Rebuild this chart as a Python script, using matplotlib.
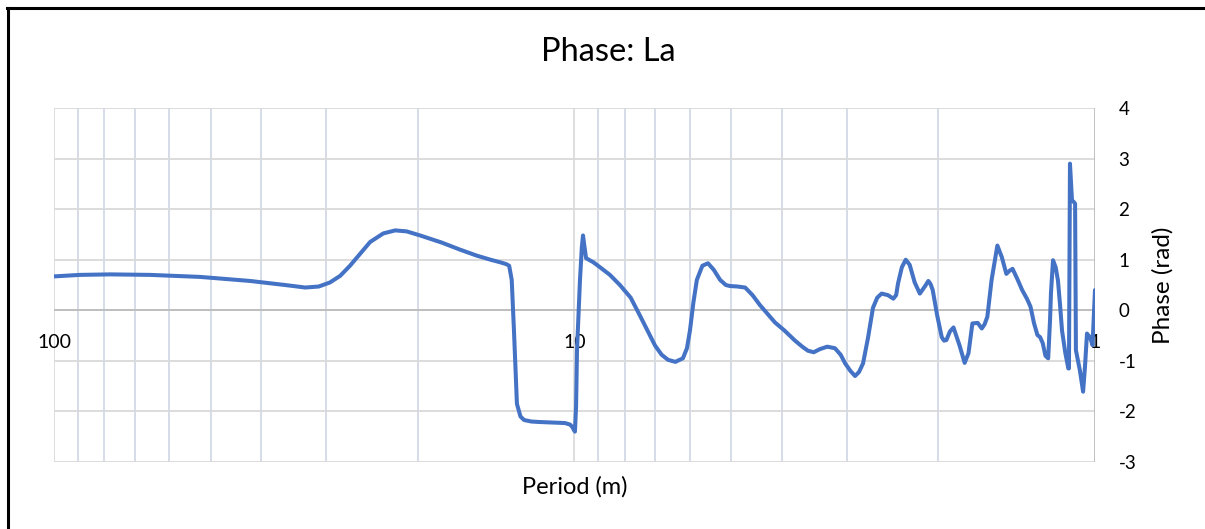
import matplotlib.pyplot as plt
from matplotlib.lines import Line2D
from matplotlib.ticker import FixedLocator, NullFormatter

plt.rcParams['font.family'] = ['Lato', 'DejaVu Sans']
plt.rcParams['axes.unicode_minus'] = False

# period (m) and phase (rad) samples
period = [100, 89.1, 78.0, 65.4, 52.4, 42.0, 36.0, 32.9, 31.0, 29.5, 28.2, 27.0, 25.8,
          24.7, 23.3, 22.1, 21.0, 19.8, 18.0, 16.6, 15.4, 14.5, 13.9, 13.5, 13.35,
          13.2, 13.07, 12.9, 12.7, 12.5, 12.1, 11.65, 11.0, 10.43, 10.2, 10.11, 9.98,
          9.93, 9.89, 9.76, 9.68, 9.63, 9.58, 9.50, 9.2, 8.93, 8.55, 8.18, 7.8, 7.49,
          7.2, 7.00, 6.8, 6.61, 6.4, 6.19, 6.08, 6.00, 5.91, 5.82, 5.68, 5.54, 5.4,
          5.25, 5.12, 5.03, 4.86, 4.70, 4.55, 4.40, 4.25, 4.12, 3.95, 3.77, 3.65,
          3.56, 3.47, 3.38, 3.27, 3.16, 3.08, 3.02, 2.95, 2.89, 2.84, 2.79, 2.73,
          2.67, 2.62, 2.57, 2.50, 2.44, 2.41, 2.39, 2.35, 2.31, 2.27, 2.22, 2.17,
          2.12, 2.09, 2.07, 2.05, 2.01, 1.97, 1.95, 1.93, 1.90, 1.87, 1.82, 1.78,
          1.75, 1.72, 1.68, 1.65, 1.63, 1.61, 1.58, 1.54, 1.51, 1.48, 1.46, 1.44,
          1.41, 1.38, 1.35, 1.33, 1.31, 1.29, 1.275, 1.26, 1.245, 1.23, 1.22, 1.215,
          1.204, 1.19, 1.178, 1.167, 1.157, 1.14, 1.125, 1.122, 1.117, 1.107, 1.10,
          1.092, 1.088, 1.078, 1.069, 1.054, 1.045, 1.036, 1.029, 1.022, 1.011, 1.0]
phase = [0.67, 0.70, 0.71, 0.70, 0.66, 0.58, 0.50, 0.45, 0.47, 0.55, 0.68, 0.88, 1.12,
         1.35, 1.52, 1.58, 1.56, 1.48, 1.34, 1.20, 1.08, 1.00, 0.95, 0.91, 0.88,
         0.60, -0.40, -1.85, -2.10, -2.17, -2.20, -2.21, -2.22, -2.23, -2.26, -2.30,
         -2.40, -1.90, -0.80, 0.60, 1.25, 1.48, 1.30, 1.03, 0.95, 0.85, 0.70, 0.50,
         0.25, -0.10, -0.45, -0.70, -0.88, -0.98, -1.02, -0.95, -0.75, -0.40, 0.15,
         0.60, 0.88, 0.93, 0.80, 0.60, 0.50, 0.48, 0.47, 0.45, 0.30, 0.10, -0.08,
         -0.24, -0.40, -0.60, -0.72, -0.80, -0.83, -0.77, -0.72, -0.75, -0.88, -1.05,
         -1.20, -1.30, -1.22, -1.05, -0.55, 0.05, 0.25, 0.33, 0.30, 0.23, 0.30, 0.53,
         0.85, 1.00, 0.90, 0.55, 0.33, 0.48, 0.58, 0.52, 0.40, -0.10, -0.53, -0.60,
         -0.59, -0.42, -0.34, -0.70, -1.04, -0.85, -0.26, -0.25, -0.36, -0.28,
         -0.13, 0.60, 1.28, 1.05, 0.72, 0.78, 0.82, 0.62, 0.40, 0.22, 0.07, -0.25,
         -0.49, -0.53, -0.65, -0.90, -0.95, -0.20, 0.34, 0.99, 0.85, 0.59, 0.10,
         -0.40, -0.85, -1.15, -1.15, 2.90, 2.17, 2.15, 2.11, -0.79, -1.00, -1.19,
         -1.61, -1.10, -0.46, -0.50, -0.53, -0.69, 0.40]

fig = plt.figure(figsize=(12.05, 5.29), dpi=100)
ax = fig.add_axes([0.0448, 0.1267, 0.8639, 0.6691])

ax.set_xscale('log')
ax.set_xlim(100, 1)
ax.set_ylim(-3, 4)

# gridlines: minor periods in light blue-grey, integers of phase in grey
minor = [m * d for d in (1, 10) for m in range(2, 10)]
ax.xaxis.set_major_locator(FixedLocator([100, 10, 1]))
ax.xaxis.set_minor_locator(FixedLocator(minor))
ax.xaxis.set_major_formatter(NullFormatter())
ax.xaxis.set_minor_formatter(NullFormatter())
ax.set_yticks(range(-3, 5))
ax.grid(True, which='minor', axis='x', color='#CBD3E1', lw=1.1)
ax.grid(True, which='major', axis='x', color='#D4D4D4', lw=1.1)
ax.grid(True, which='major', axis='y', color='#D9D9D9', lw=1.3)
ax.axhline(0, color='#BFBFBF', lw=1.4, zorder=1)
ax.axvline(1, color='#BFBFBF', lw=1.3, zorder=1)
ax.set_axisbelow(True)
for s in ax.spines.values():
    s.set_visible(False)

ax.tick_params(axis='both', which='both', length=0)
ax.yaxis.tick_right()
ax.tick_params(axis='y', labelsize=13.5, pad=17)
ax.yaxis.set_label_position('right')
ax.set_ylabel('Phase (rad)', fontsize=17.5, labelpad=11)

# period labels sit below the zero line
for p, lab in [(100, '100'), (10, '10'), (1, '1')]:
    ax.annotate(lab, (p, 0), xytext=(0, -32), textcoords='offset pixels',
                ha='center', va='center', fontsize=14)

ax.plot(period, phase, color='#4472C4', lw=2.9, solid_joinstyle='round',
        solid_capstyle='round', zorder=3)

fig.text(0.505, 0.902, 'Phase: La', ha='center', va='center', fontsize=23.5)
fig.text(0.477, 0.079, 'Period (m)', ha='center', va='center', fontsize=17)

# chart border
fig.add_artist(Line2D([0.0066, 0.0066], [0, 0.9845], color='black', lw=2.2))
fig.add_artist(Line2D([0.0058, 1.0], [0.9845, 0.9845], color='black', lw=2.2))

fig.savefig('out.png', dpi=100)
